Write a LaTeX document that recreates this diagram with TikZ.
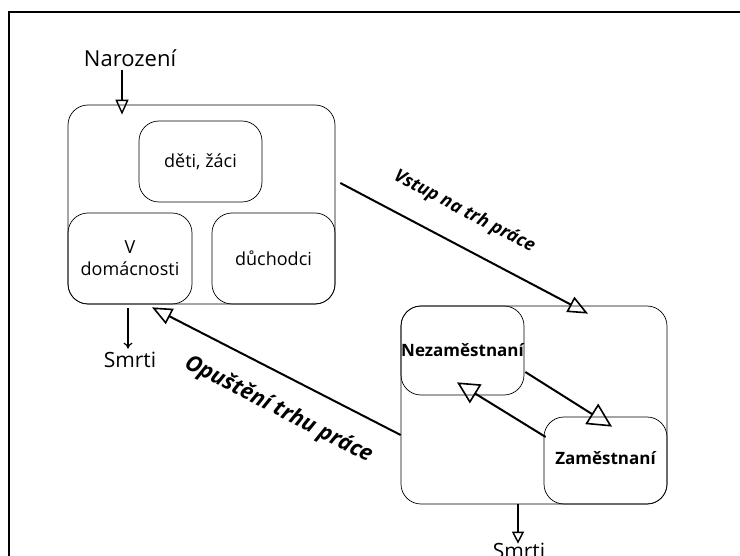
\documentclass[tikz,border=0pt]{standalone}
\usepackage{fontspec}
\setmainfont{Open Sans}
\usetikzlibrary{calc}
\usetikzlibrary{arrows.meta}

\begin{document}
\begin{tikzpicture}[x=1pt,y=-1pt,
  box/.style={draw, rounded corners=20pt, line width=0.7pt, inner sep=0pt, align=center,
    font=\fontsize{18}{22}\selectfont},
  flow/.style={line width=2pt, -{Triangle[open,length=20pt,width=17pt,line width=1.6pt]}},
  txt/.style={font=\fontsize{21}{24}\selectfont},
  hdr/.style={font=\bfseries\itshape\fontsize{18}{21}\selectfont}]
\useasboundingbox (0,0) rectangle (740,556);
\draw[line width=1.5pt] (9,580) -- (9,12) -- (760,12);

% neaktivni
\node[box, minimum width=267pt, minimum height=199pt] (levy) at (201.5,204.5) {};
\node[box, minimum width=123pt, minimum height=81pt] (deti) at (200.5,161.5) {děti, žáci};
\node[box, minimum width=124pt, minimum height=91pt] (domac) at (130,258.5) {V\\domácnosti};
\node[box, minimum width=123pt, minimum height=91pt] (duch) at (273.5,258.5) {důchodci};

% trh prace
\node[box, minimum width=266pt, minimum height=198pt] (pravy) at (534,405) {};
\node[box, font=\bfseries\fontsize{17}{20}\selectfont, minimum width=123pt, minimum height=89pt] (nezam) at (462.5,350.5) {Nezaměstnaní};
\node[box, font=\bfseries\fontsize{17}{20}\selectfont, minimum width=123pt, minimum height=87pt] (zam) at (605.5,460.5) {\raisebox{5pt}{Zaměstnaní}};

\node[txt, font=\fontsize{22}{24}\selectfont] (naroz) at (130,58) {Narození};
\node[txt] (smrti1) at (130,360) {Smrti};
\node[txt] (smrti2) at (519,551) {Smrti};

\draw[line width=1.8pt, -{Triangle[open,length=15pt,width=13pt,line width=1.4pt]}]
  (naroz.south -| 122,0) -- ($(levy.north)+(-79.5,10)$);
\draw[line width=1.2pt, -{To[length=6pt,width=9pt]}]
  ($(levy.south)+(-73.5,4)$) -- (smrti1.north -| 128,0);
\draw[line width=1.8pt, -{Triangle[open,length=12pt,width=12pt,line width=1.4pt]}]
  ($(pravy.south)+(-16,0)$) -- ($(smrti2.north)+(-1,4)$);

\draw[flow] ($(levy.east)+(5,-21.5)$) -- node[hdr, sloped, above=19pt, pos=0.44] {Vstup na trh práce} ($(pravy.north)+(54,8)$);
\draw[flow] ($(pravy.west)+(0,30)$) -- node[hdr, font=\bfseries\itshape\fontsize{22}{24}\selectfont, sloped, below=18pt, pos=0.43] {Opuštění trhu práce} ($(levy.south)+(-49.5,3)$);

\draw[flow, -{Triangle[open,length=24pt,width=24pt,line width=1.6pt]}] ($(nezam.east)+(1,21.5)$) -- ($(zam.north)+(6.5,10)$);
\draw[flow, -{Triangle[open,length=22pt,width=22pt,line width=1.6pt]}] ($(zam.west)+(2,-23.5)$) -- ($(nezam.south)+(-5.5,-13)$);
\end{tikzpicture}
\end{document}
